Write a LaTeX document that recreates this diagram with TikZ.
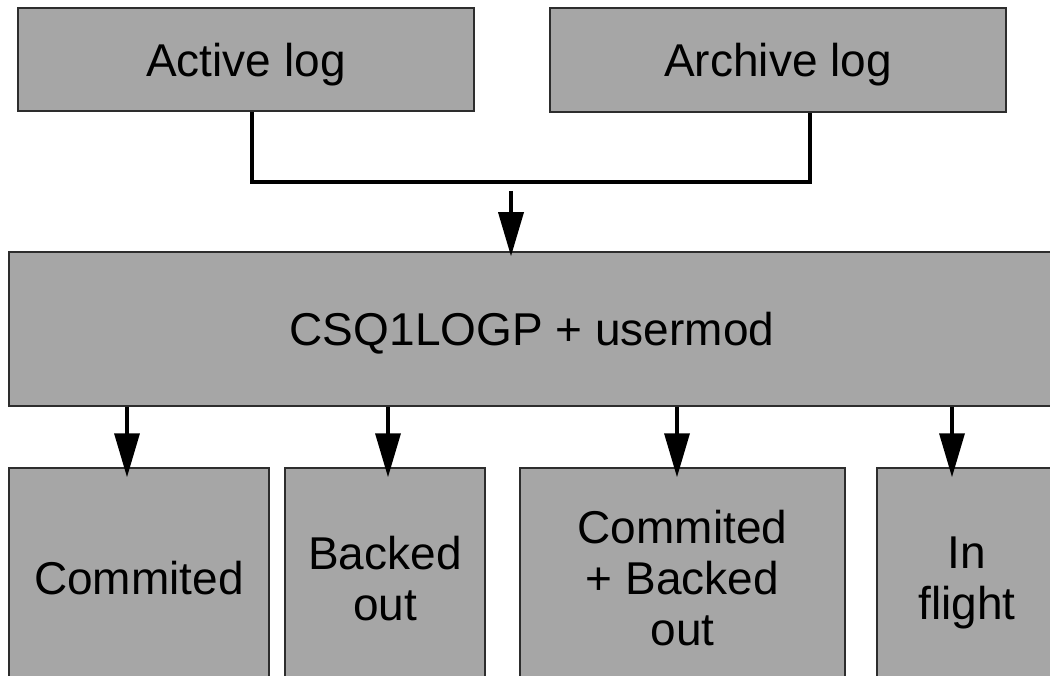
\documentclass[tikz,border=0pt]{standalone}
\usepackage{fontspec}
\setmainfont{Liberation Sans}
\usepackage{tikz}
\usetikzlibrary{arrows.meta}

\definecolor{boxgray}{RGB}{166,166,166}
\definecolor{boxline}{RGB}{45,45,45}

\begin{document}
\begin{tikzpicture}[x=1pt, y=-1pt,
	box/.style={draw=boxline, line width=1.5pt, fill=boxgray, inner sep=0pt, align=center,
		text depth=0pt, font=\fontsize{46}{51}\selectfont},
	link/.style={line width=3.5pt, line join=miter},
	flow/.style={line width=3.5pt, -{Triangle[length=44pt, width=25pt]}}]

	\useasboundingbox (0, 0) rectangle (1050, 676);
	\clip (0, 0) rectangle (1050, 676);

	% log sources
	\node[box, minimum width=456pt, minimum height=103pt] (active) at (246, 59.5) {Active log};
	\node[box, minimum width=456pt, minimum height=104pt] (archive) at (778, 60) {Archive log};

	% exit program
	\node[box, minimum width=1046pt, minimum height=154pt] (exit) at (532, 329) {CSQ1LOGP + usermod};

	% outputs
	\node[box, minimum width=260pt, minimum height=220pt] (commit) at (139, 578) {Commited};
	\node[box, minimum width=200pt, minimum height=220pt] (backout) at (385, 578) {Backed\\out};
	\node[box, minimum width=325pt, minimum height=220pt] (both) at (682.5, 578) {Commited\\+ Backed\\out};
	\node[box, minimum width=180pt, minimum height=220pt] (flight) at (967, 578) {In\\flight};

	\coordinate (bus) at (511, 182);

	\draw[link] ([xshift=6pt]active.south) |- (bus) -| ([xshift=32pt]archive.south);
	\draw[flow] ([yshift=-9pt]bus) -- ([yshift=-5pt]exit.north -| bus);

	\draw[flow] (exit.south -| commit.north) ++(-12, 0) -- ([xshift=-12pt, yshift=-10pt]commit.north);
	\draw[flow] (exit.south -| backout.north) ++(3, 0) -- ([xshift=3pt, yshift=-10pt]backout.north);
	\draw[flow] (exit.south -| both.north) ++(-5.5, 0) -- ([xshift=-5.5pt, yshift=-10pt]both.north);
	\draw[flow] (exit.south -| flight.north) ++(-15, 0) -- ([xshift=-15pt, yshift=-10pt]flight.north);
\end{tikzpicture}
\end{document}
